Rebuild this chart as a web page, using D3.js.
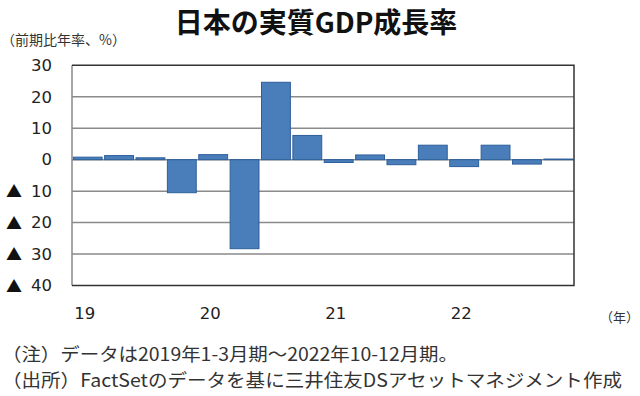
<!DOCTYPE html>
<html>
<head>
<meta charset="utf-8">
<script src="https://cdn.jsdelivr.net/npm/d3@7"></script>
<style>
  body { margin: 0; background: #fff; }
  svg { display: block; }
</style>
</head>
<body>
<div class="chart"></div>
<script>
// data: quarterly real GDP growth (annualized q/q, %)
const quarters = ["2019Q1","2019Q2","2019Q3","2019Q4","2020Q1","2020Q2","2020Q3","2020Q4",
                  "2021Q1","2021Q2","2021Q3","2021Q4","2022Q1","2022Q2","2022Q3","2022Q4"];
const growth = [0.8, 1.3, 0.6, -10.5, 1.6, -28.3, 24.6, 7.7,
                -0.9, 1.5, -1.6, 4.6, -2.2, 4.6, -1.4, 0.2];
const yTicks = [30, 20, 10, 0, -10, -20, -30, -40];
const yearLabels = ["19", "20", "21", "22"];

const w = 640, h = 396;
const plotL = 72, plotR = 574, plotT = 65.3, plotB = 285.5;
const numFont = "'DejaVu Sans', Verdana, sans-serif";
const jpFont = "'Noto Sans CJK JP', sans-serif";

const svg = d3.select(".chart")
  .append("svg")
  .attr("width", w)
  .attr("height", h);

// scales
const xScale = d3.scaleBand()
  .domain(quarters)
  .range([plotL, plotR])
  .paddingInner(0.08)
  .paddingOuter(0.04);

const yScale = d3.scaleLinear()
  .domain([-40, 30])
  .range([plotB, plotT]);

// title
svg.append("text")
  .attr("x", 316)
  .attr("y", 33)
  .attr("text-anchor", "middle")
  .style("font-family", jpFont)
  .style("font-weight", "bold")
  .style("font-size", "28px")
  .attr("fill", "#111")
  .text("日本の実質GDP成長率");

svg.append("text")
  .attr("x", 1)
  .attr("y", 45)
  .style("font-family", jpFont)
  .style("font-size", "14px")
  .attr("fill", "#333")
  .text("（前期比年率、%）");

// gridlines
svg.append("g")
  .selectAll("line")
  .data(yTicks.filter(d => d !== 30 && d !== -40))
  .enter()
  .append("line")
  .attr("x1", plotL)
  .attr("x2", plotR)
  .attr("y1", d => yScale(d))
  .attr("y2", d => yScale(d))
  .attr("stroke", "#8a8a8a")
  .attr("stroke-width", 1.5);

// bars
svg.selectAll("rect.bar")
  .data(quarters)
  .enter()
  .append("rect")
  .attr("class", "bar")
  .attr("x", d => xScale(d))
  .attr("width", xScale.bandwidth())
  .attr("y", (d, i) => yScale(Math.max(0, growth[i])))
  .attr("height", (d, i) => Math.abs(yScale(growth[i]) - yScale(0)))
  .attr("fill", "#4a7ebb")
  .attr("stroke", "#2d5f9a")
  .attr("stroke-width", 1);

// frame
svg.append("line")
  .attr("x1", plotL).attr("x2", plotL)
  .attr("y1", plotT).attr("y2", plotB)
  .attr("stroke", "#8a8a8a").attr("stroke-width", 1.5);
svg.append("path")
  .attr("d", `M${plotL},${plotT}H${plotR}V${plotB}H${plotL}`)
  .attr("fill", "none")
  .attr("stroke", "#333")
  .attr("stroke-width", 1.5);

// y axis labels
const yAxis = d3.axisLeft(yScale)
  .tickValues(yTicks)
  .tickSize(0)
  .tickPadding(20)
  .tickFormat(d => Math.abs(d));

const yg = svg.append("g")
  .attr("transform", `translate(${plotL},0)`)
  .call(yAxis);
yg.select(".domain").remove();
yg.selectAll("text")
  .style("font-family", numFont)
  .style("font-size", "16.5px")
  .attr("fill", "#222");

// negative labels get a black triangle
yg.selectAll(".tick")
  .filter(d => d < 0)
  .append("text")
  .attr("x", -66)
  .attr("dy", "0.36em")
  .attr("text-anchor", "start")
  .style("font-family", jpFont)
  .style("font-size", "16px")
  .attr("fill", "#111")
  .text("▲");

// x labels: at the start of each year
svg.append("g")
  .selectAll("text")
  .data(yearLabels)
  .enter()
  .append("text")
  .attr("x", (d, i) => xScale(quarters[i * 4]) + 1)
  .attr("y", 319)
  .style("font-family", numFont)
  .style("font-size", "16.5px")
  .attr("fill", "#222")
  .text(d => d);

svg.append("text")
  .attr("x", 639)
  .attr("y", 322)
  .attr("text-anchor", "end")
  .style("font-family", jpFont)
  .style("font-size", "13px")
  .attr("fill", "#333")
  .text("（年）");

// notes
svg.append("text")
  .attr("x", 2)
  .attr("y", 361)
  .attr("textLength", 456)
  .attr("lengthAdjust", "spacingAndGlyphs")
  .style("font-family", jpFont)
  .style("font-size", "18px")
  .attr("fill", "#333")
  .text("（注）データは2019年1-3月期～2022年10-12月期。");

svg.append("text")
  .attr("x", 2)
  .attr("y", 387)
  .attr("textLength", 620)
  .attr("lengthAdjust", "spacingAndGlyphs")
  .style("font-family", jpFont)
  .style("font-size", "18px")
  .attr("fill", "#333")
  .text("（出所）FactSetのデータを基に三井住友DSアセットマネジメント作成");
</script>
</body>
</html>
